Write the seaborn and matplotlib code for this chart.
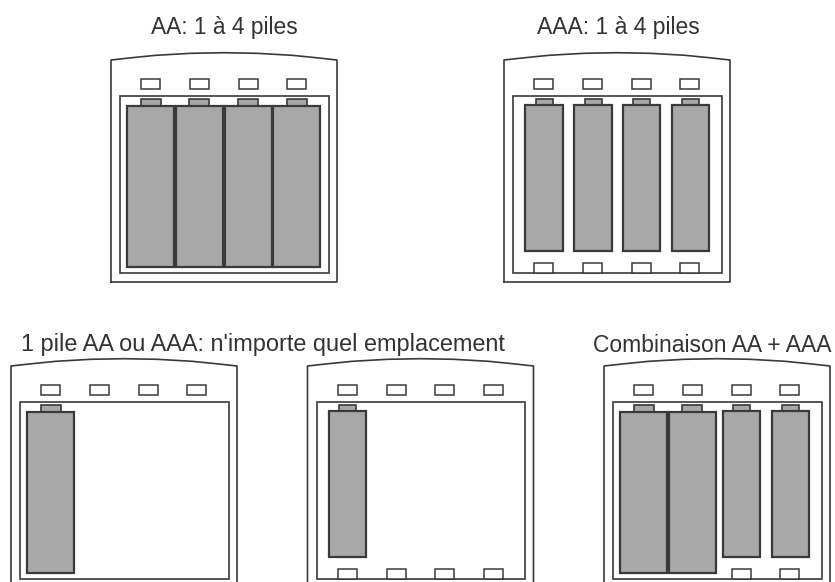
import matplotlib
matplotlib.use("Agg")
import matplotlib.pyplot as plt
import seaborn as sns

sns.set_theme(style="white")
plt.rcParams['font.family'] = ['Liberation Sans', 'DejaVu Sans']

# Titles
titles = ["AA: 1 à 4 piles", "AAA: 1 à 4 piles",
          "1 pile AA ou AAA: n'importe quel emplacement", "Combinaison AA + AAA"]
title_x = [224, 618.5, 263, 712.5]
title_baseline = [34, 34, 350.7, 351.7]
title_size = [16.4, 16.5, 16.9, 16.45]

# Top-left corner of each charger, in image pixels
charger_x = [111, 504, 11, 307.5, 604]
charger_y = [60, 60, 366, 366, 366]

# What sits in each charger (bay index per battery type)
aa_bays = [[0, 1, 2, 3], [], [0], [], [0, 1]]
aaa_bays = [[], [0, 1, 2, 3], [], [0], [2, 3]]
bottom_slot_bays = [[], [0, 1, 2, 3], [], [0, 1, 2, 3], [2, 3]]

# Housing outline relative to the charger corner
housing_dx = [0, 0, 20, 45, 80, 113, 146, 181, 206, 226, 226, 0]
housing_dy = [222, 0, -2.2, -4.7, -6.7, -7.3, -6.7, -4.7, -2.2, 0, 222, 222]

# Bay centres
bay_dx = [39.5, 88.5, 137, 185.5]
aa_dx = [39.5, 88.2, 137, 185.5]
aaa_dx = [40.2, 89, 137.5, 186.5]

ink = "#3a3a3a"
grey = "#a8a8a8"

fig, ax = plt.subplots(figsize=(8.35, 5.82), dpi=100)


def box(x0, y0, x1, y1, fill, lw=1.3, z=2):
    sns.barplot(x=[(x0 + x1) / 2], y=[y1 - y0], bottom=y0, width=x1 - x0,
                native_scale=True, color=fill, saturation=1, edgecolor=ink,
                linewidth=lw, zorder=z, ax=ax)


def battery(cx, oy, body_w, body_top, body_bottom, cap_w):
    box(cx - cap_w / 2, oy + 39, cx + cap_w / 2, oy + body_top, grey, 1.2, 4)
    box(cx - body_w / 2, oy + body_top, cx + body_w / 2, oy + body_bottom, grey, 1.6, 5)


for i, (ox, oy) in enumerate(zip(charger_x, charger_y)):
    sns.lineplot(x=[ox + d for d in housing_dx], y=[oy + d for d in housing_dy],
                 sort=False, estimator=None, color=ink, linewidth=1.2, zorder=2, ax=ax)
    box(ox + 9, oy + 36, ox + 217.5, oy + 213, "white", 1.2, 2)
    for cx in bay_dx:
        box(ox + cx - 9.5, oy + 19, ox + cx + 9.5, oy + 29, "white", 1.1, 3)
    for b in bottom_slot_bays[i]:
        box(ox + bay_dx[b] - 9.5, oy + 203, ox + bay_dx[b] + 9.5, oy + 213, "white", 1.1, 3)
    for b in aa_bays[i]:
        battery(ox + aa_dx[b], oy, 47, 46, 207, 20)
    for b in aaa_bays[i]:
        battery(ox + aaa_dx[b], oy, 37.5, 45, 191, 17)

for label, x, y, size in zip(titles, title_x, title_baseline, title_size):
    ax.text(x, y, label, ha="center", va="baseline", fontsize=size, color="#333333")

ax.set_xlim(0, 835)
ax.set_ylim(582, 0)
ax.set_position([0, 0, 1, 1])
ax.axis("off")
fig.savefig("out.png", dpi=100)
